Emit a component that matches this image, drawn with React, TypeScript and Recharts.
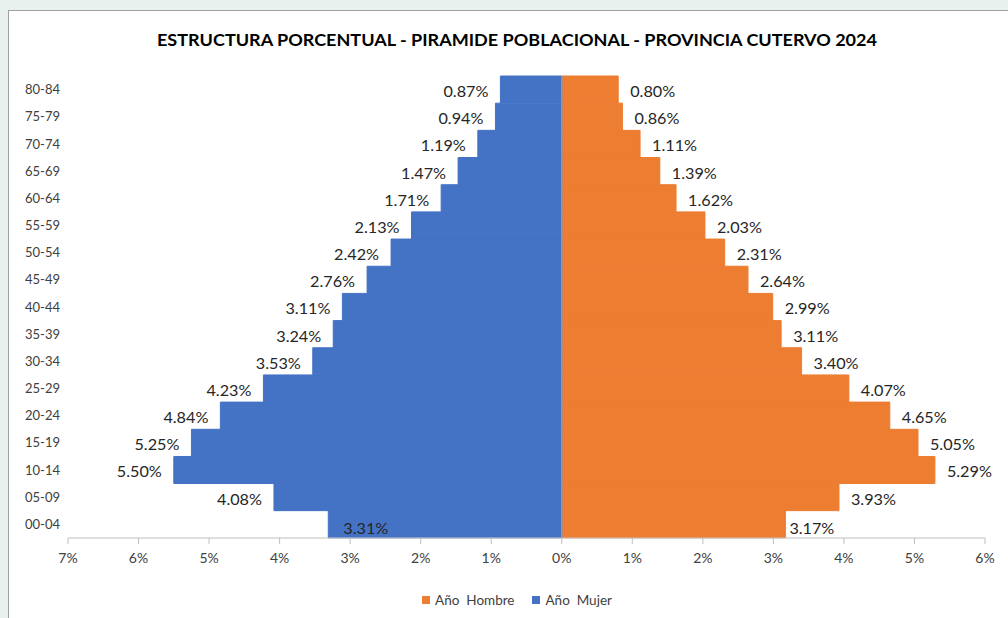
import React from "react";
import { BarChart, Bar, XAxis, YAxis, ReferenceLine, LabelList } from "recharts";

const ages = ["00-04", "05-09", "10-14", "15-19", "20-24", "25-29", "30-34", "35-39", "40-44", "45-49", "50-54", "55-59", "60-64", "65-69", "70-74", "75-79", "80-84"];
const mujer = [3.31, 4.08, 5.5, 5.25, 4.84, 4.23, 3.53, 3.24, 3.11, 2.76, 2.42, 2.13, 1.71, 1.47, 1.19, 0.94, 0.87];
const hombre = [3.17, 3.93, 5.29, 5.05, 4.65, 4.07, 3.4, 3.11, 2.99, 2.64, 2.31, 2.03, 1.62, 1.39, 1.11, 0.86, 0.8];
const xTicks = [-7, -6, -5, -4, -3, -2, -1, 0, 1, 2, 3, 4, 5, 6];

const title = "ESTRUCTURA PORCENTUAL - PIRAMIDE  POBLACIONAL - PROVINCIA CUTERVO  2024";
const series = [
  { key: "hombre", name: "Año  Hombre", color: "#ED7D31" },
  { key: "mujer", name: "Año  Mujer", color: "#4472C4" },
];

const FONT = "Lato, 'Open Sans', sans-serif";
const TEXT = "#404040";

const data = ages.map((age, i) => ({ age, hombre: hombre[i], mujer: -mujer[i] }));

function pct(v: number) {
  return Math.abs(v).toFixed(2) + "%";
}

// data labels sit just outside the bar end; the 00-04 women label sits inside like the original
function makeLabel(side: "left" | "right") {
  return (props: any) => {
    const { x, y, width, height, value, index } = props;
    const left = Math.min(x, x + width);
    const right = Math.max(x, x + width);
    const cy = y + height / 2 + (index === 0 ? 3 : 1);
    let tx = side === "left" ? left - 12 : right + 12;
    let anchor: "start" | "end" = side === "left" ? "end" : "start";
    if (side === "left" && index === 0) {
      tx = left + 15;
      anchor = "start";
    }
    if (side === "right" && index === 0) tx = right + 4;
    return (
      <text x={tx} y={cy} textAnchor={anchor} dominantBaseline="central" fontSize={16.2} fill="#262626" fontFamily={FONT}>
        {pct(value)}
      </text>
    );
  };
}

export default function App() {
  return (
    <div style={{ position: "absolute", left: 0, top: 0, width: 1008, height: 618, background: "#e9f1ee", overflow: "hidden" }}>
      <div style={{ position: "absolute", left: 8, top: 10, width: 1020, height: 640, background: "#fff", border: "1px solid #a0a0a0", boxSizing: "border-box" }} />
      <svg width={1008} height={70} style={{ position: "absolute", left: 0, top: 0 }}>
        <text x={157} y={46} textLength={720} lengthAdjust="spacingAndGlyphs" fontSize={17} fontWeight="bold" fill="#000" fontFamily={FONT}>
          {title}
        </text>
      </svg>
      <div style={{ position: "absolute", left: 0, top: 0 }}>
        <BarChart
          width={1008}
          height={618}
          data={data}
          layout="vertical"
          stackOffset="sign"
          barCategoryGap={0}
          margin={{ top: 76, right: 23, bottom: 50, left: 8 }}
        >
          <XAxis
            type="number"
            domain={[-7, 6]}
            ticks={xTicks}
            tickFormatter={(v) => Math.abs(v) + "%"}
            tick={{ fill: TEXT, fontSize: 14, fontFamily: FONT }}
            axisLine={{ stroke: "#bfbfbf" }}
            tickLine={{ stroke: "#bfbfbf" }}
            tickSize={6}
            tickMargin={9}
            height={30}
            allowDataOverflow
          />
          <YAxis
            type="category"
            dataKey="age"
            reversed
            width={60}
            axisLine={false}
            tickLine={false}
            interval={0}
            tick={{ fill: TEXT, fontSize: 13, fontFamily: FONT }}
          />
          {series.map((s) => (
            <Bar key={s.key} dataKey={s.key} name={s.name} stackId="p" fill={s.color} stroke={s.color} strokeWidth={1} isAnimationActive={false}>
              <LabelList dataKey={s.key} content={makeLabel(s.key === "mujer" ? "left" : "right")} />
            </Bar>
          ))}
          <ReferenceLine x={0} stroke="#a6a6a6" strokeWidth={1} />
        </BarChart>
      </div>
      <div style={{ position: "absolute", left: 0, top: 592, width: 1034, display: "flex", justifyContent: "center", gap: 18, fontFamily: FONT, fontSize: 13.5, color: TEXT }}>
        {series.map((s) => (
          <div key={s.key} style={{ display: "flex", alignItems: "center" }}>
            <span style={{ display: "inline-block", width: 8, height: 8, background: s.color, marginRight: 5 }} />
            <span style={{ whiteSpace: "pre" }}>{s.name}</span>
          </div>
        ))}
      </div>
    </div>
  );
}
